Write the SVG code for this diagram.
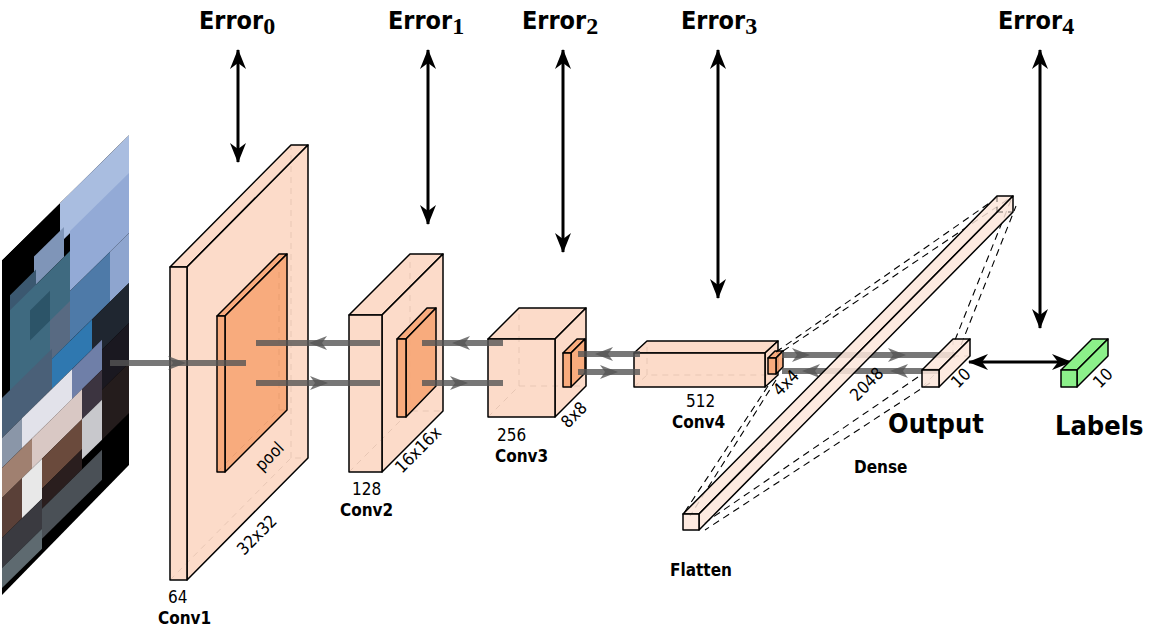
<svg xmlns="http://www.w3.org/2000/svg" width="1167" height="631" viewBox="0 0 1167 631">
<defs>
<style>
.b{stroke:#000;stroke-width:1.5;stroke-linejoin:round}
.c{fill:#fcd5bf;fill-opacity:0.85}
.p{fill:#f7a574;fill-opacity:0.9}
.d{fill:#fde6da;fill-opacity:0.85}
.g{fill:#8cf08a}
.h{fill:none;stroke:#000;stroke-width:1;stroke-dasharray:6 5;opacity:0.55}
.dl{fill:none;stroke:#000;stroke-width:1.1;stroke-dasharray:7 5}
.ga{stroke:#555;stroke-width:6;opacity:0.8;fill:none}
.gh{fill:#555;opacity:0.8}
.ar{stroke:#000;stroke-width:3;fill:none}
.t{font-family:"DejaVu Sans Condensed","DejaVu Sans",sans-serif;fill:#000}
.lb{font-weight:bold;font-size:17px}
.nm{font-size:17px}
.big{font-weight:bold;font-size:27px}
.err{font-family:"DejaVu Sans Condensed","DejaVu Sans",sans-serif;font-weight:bold;font-size:25px}
.sub{font-family:"Liberation Serif",serif;font-size:24px;font-weight:bold}
</style>
<marker id="ah" viewBox="0 0 20 16" refX="19" refY="8" markerWidth="20" markerHeight="16" orient="auto-start-reverse" markerUnits="userSpaceOnUse">
<path d="M0,0 L20,8 L0,16 L6,8 Z" fill="#000"/>
</marker>
<clipPath id="imgclip"><polygon points="2,260 129,135 129,465 2,595"/></clipPath>
</defs>
<rect width="1167" height="631" fill="#fff"/>

<g id="input-image" clip-path="url(#imgclip)">
<g transform="matrix(1,-0.984,0,1,0,0)">
<rect x="0" y="262" width="130" height="340" fill="#000"/>
<rect x="60" y="262" width="70" height="40" fill="#a9bde0"/>
<rect x="34" y="290" width="30" height="30" fill="#7f95b8"/>
<rect x="10" y="305" width="26" height="20" fill="#3b5870"/>
<rect x="10" y="320" width="60" height="90" fill="#3f6a80"/>
<rect x="70" y="300" width="60" height="60" fill="#93aad6"/>
<rect x="70" y="360" width="40" height="50" fill="#4e7aa8"/>
<rect x="110" y="360" width="20" height="50" fill="#8ea5cf"/>
<rect x="30" y="340" width="20" height="30" fill="#2c5468"/>
<rect x="50" y="370" width="20" height="40" fill="#586a82"/>
<rect x="2" y="400" width="50" height="40" fill="#4a6078"/>
<rect x="52" y="410" width="40" height="30" fill="#2f78b0"/>
<rect x="92" y="410" width="38" height="40" fill="#1f2630"/>
<rect x="2" y="440" width="20" height="30" fill="#8a96a8"/>
<rect x="22" y="440" width="50" height="30" fill="#e2e2ea"/>
<rect x="72" y="440" width="30" height="30" fill="#6f7fa8"/>
<rect x="102" y="450" width="28" height="40" fill="#1a1820"/>
<rect x="2" y="470" width="30" height="30" fill="#a08070"/>
<rect x="32" y="470" width="50" height="30" fill="#d9c8c4"/>
<rect x="82" y="470" width="20" height="30" fill="#3c3440"/>
<rect x="2" y="500" width="20" height="40" fill="#5a4038"/>
<rect x="22" y="500" width="20" height="40" fill="#e8e8e8"/>
<rect x="42" y="500" width="40" height="30" fill="#6a4a3c"/>
<rect x="82" y="500" width="20" height="40" fill="#c8c8cc"/>
<rect x="102" y="490" width="28" height="50" fill="#241c1c"/>
<rect x="42" y="530" width="40" height="20" fill="#2a1e1e"/>
<rect x="2" y="540" width="40" height="30" fill="#3a3a40"/>
<rect x="42" y="550" width="60" height="30" fill="#4a5056"/>
<rect x="2" y="570" width="40" height="20" fill="#5e6a70"/>
</g>
</g>

<g id="conv1">
<polyline class="h" points="170,580 291,458 308,458"/><line class="h" x1="291" y1="458" x2="291" y2="145"/>
<polygon class="b c" points="170,267 291,145 308,145 187,267"/>
<polygon class="b c" points="187,267 308,145 308,458 187,580"/>
<rect class="b c" x="170" y="267" width="17" height="313"/>
</g>
<g id="pool1">
<polyline class="h" points="217,472 279,410 287,410"/><line class="h" x1="279" y1="410" x2="279" y2="254"/>
<polygon class="b p" points="217,316 279,254 287,254 225,316"/>
<polygon class="b p" points="225,316 287,254 287,410 225,472"/>
<rect class="b p" x="217" y="316" width="8" height="156"/>
</g>
<g id="conv2">
<polyline class="h" points="349,472 410,411 443,411"/><line class="h" x1="410" y1="411" x2="410" y2="254"/>
<polygon class="b c" points="349,315 410,254 443,254 382,315"/>
<polygon class="b c" points="382,315 443,254 443,411 382,472"/>
<rect class="b c" x="349" y="315" width="33" height="157"/>
</g>
<g id="pool2">
<polygon class="b p" points="397,339 427,308 436,308 406,339"/>
<polygon class="b p" points="406,339 436,308 436,386 406,417"/>
<rect class="b p" x="397" y="339" width="9" height="78"/>
</g>
<g id="conv3">
<polyline class="h" points="488,417 519,386 586,386"/><line class="h" x1="519" y1="386" x2="519" y2="308"/>
<polygon class="b c" points="488,339 519,308 586,308 555,339"/>
<polygon class="b c" points="555,339 586,308 586,386 555,417"/>
<rect class="b c" x="488" y="339" width="67" height="78"/>
</g>
<g id="pool3">
<polygon class="b p" points="563,353 577,339 585,339 571,353"/>
<polygon class="b p" points="571,353 585,339 585,373 571,387"/>
<rect class="b p" x="563" y="353" width="8" height="34"/>
</g>
<g id="conv4">
<polyline class="h" points="634,387 647,375 778,375"/><line class="h" x1="647" y1="375" x2="647" y2="341"/>
<polygon class="b c" points="634,353 647,341 778,341 765,353"/>
<polygon class="b c" points="765,353 778,341 778,375 765,387"/>
<rect class="b c" x="634" y="353" width="131" height="34"/>
</g>
<g id="pool4">
<polygon class="b p" points="768,358 775,351 783,351 776,358"/>
<polygon class="b p" points="776,358 783,351 783,367 776,374"/>
<rect class="b p" x="768" y="358" width="8" height="16"/>
</g>

<g id="connectors">
<line class="dl" x1="776" y1="352" x2="998" y2="197"/>
<line class="dl" x1="783" y1="351" x2="1010" y2="198"/>
<line class="dl" x1="768" y1="386" x2="684" y2="513"/>
<line class="dl" x1="776" y1="380" x2="690" y2="516"/>
<line class="dl" x1="955" y1="340" x2="1011" y2="200"/>
<line class="dl" x1="961" y1="345" x2="1016" y2="206"/>
<line class="dl" x1="918" y1="377" x2="700" y2="526"/>
<line class="dl" x1="930" y1="383" x2="705" y2="530"/>

<line class="ga" x1="110" y1="363" x2="246" y2="363"/>
<path class="gh" d="M168,356 L186,363 L168,370 L173,363 Z"/>
<line class="ga" x1="256" y1="343" x2="380" y2="343"/>
<path class="gh" d="M327,336 L309,343 L327,350 L322,343 Z"/>
<line class="ga" x1="256" y1="383" x2="380" y2="383"/>
<path class="gh" d="M310,376 L328,383 L310,390 L315,383 Z"/>
<line class="ga" x1="422" y1="343" x2="503" y2="343"/>
<path class="gh" d="M470,336 L452,343 L470,350 L465,343 Z"/>
<line class="ga" x1="422" y1="383" x2="503" y2="383"/>
<path class="gh" d="M450,376 L468,383 L450,390 L455,383 Z"/>
<line class="ga" x1="578" y1="354" x2="640" y2="354"/>
<path class="gh" d="M613,347 L595,354 L613,361 L608,354 Z"/>
<line class="ga" x1="578" y1="372" x2="640" y2="372"/>
<path class="gh" d="M600,365 L618,372 L600,379 L605,372 Z"/>
<line class="ga" x1="782" y1="355" x2="955" y2="355"/>
<path class="gh" d="M792,348 L810,355 L792,362 L797,355 Z"/>
<path class="gh" d="M888,348 L906,355 L888,362 L893,355 Z"/>
<line class="ga" x1="782" y1="371" x2="940" y2="371"/>
<path class="gh" d="M820,364 L802,371 L820,378 L815,371 Z"/>
<path class="gh" d="M908,364 L890,371 L908,378 L903,371 Z"/>

<line class="ar" x1="238" y1="50" x2="238" y2="162" marker-start="url(#ah)" marker-end="url(#ah)"/>
<line class="ar" x1="428" y1="50" x2="428" y2="224" marker-start="url(#ah)" marker-end="url(#ah)"/>
<line class="ar" x1="563" y1="50" x2="563" y2="252" marker-start="url(#ah)" marker-end="url(#ah)"/>
<line class="ar" x1="718" y1="50" x2="718" y2="298" marker-start="url(#ah)" marker-end="url(#ah)"/>
<line class="ar" x1="1040" y1="50" x2="1040" y2="328" marker-start="url(#ah)" marker-end="url(#ah)"/>
<line class="ar" x1="969" y1="362" x2="1071" y2="362" marker-start="url(#ah)" marker-end="url(#ah)"/>
</g>

<g id="flatten-dense">
<polygon class="b d" points="683,514 997,196 1013,196 699,514"/>
<polygon class="b d" points="699,514 1013,196 1013,212 699,530"/>
<rect class="b d" x="683" y="514" width="16" height="16"/>
<line class="h" x1="997" y1="196" x2="997" y2="212"/><line class="h" x1="997" y1="212" x2="1013" y2="212"/>
</g>
<g id="output">
<polyline class="h" points="922,387 953,356 970,356"/><line class="h" x1="953" y1="356" x2="953" y2="339"/>
<polygon class="b d" points="922,370 953,339 970,339 939,370"/>
<polygon class="b d" points="939,370 970,339 970,356 939,387"/>
<rect class="b d" x="922" y="370" width="17" height="17"/>
</g>
<g id="labels-node">
<polygon class="b g" points="1061,370 1092,339 1108,339 1077,370"/>
<polygon class="b g" points="1077,370 1108,339 1108,356 1077,387"/>
<rect class="b g" x="1061" y="370" width="16" height="17"/>
</g>

<g id="texts">
<text class="err" x="199" y="29">Error<tspan class="sub" dy="5">0</tspan></text>
<text class="err" x="388" y="29">Error<tspan class="sub" dy="5">1</tspan></text>
<text class="err" x="522" y="29">Error<tspan class="sub" dy="5">2</tspan></text>
<text class="err" x="681" y="29">Error<tspan class="sub" dy="5">3</tspan></text>
<text class="err" x="998" y="29">Error<tspan class="sub" dy="5">4</tspan></text>

<text class="t nm" x="168" y="603">64</text>
<text class="t lb" x="158" y="624">Conv1</text>
<text class="t nm" transform="translate(244,556) rotate(-45)">32x32</text>
<text class="t nm" transform="translate(262,472) rotate(-45)">pool</text>
<text class="t nm" x="352" y="495">128</text>
<text class="t lb" x="340" y="516">Conv2</text>
<text class="t nm" transform="translate(402,474) rotate(-45)">16x16x</text>
<text class="t nm" x="497" y="441">256</text>
<text class="t lb" x="495" y="462">Conv3</text>
<text class="t nm" transform="translate(568,429) rotate(-45)">8x8</text>
<text class="t nm" x="686" y="407">512</text>
<text class="t lb" x="672" y="428">Conv4</text>
<text class="t nm" transform="translate(780,397) rotate(-45)">4x4</text>
<text class="t nm" transform="translate(857,402) rotate(-45)">2048</text>
<text class="t nm" transform="translate(958,389) rotate(-45)">10</text>
<text class="t nm" transform="translate(1100,389) rotate(-45)">10</text>
<text class="t big" x="888" y="433">Output</text>
<text class="t big" x="1055" y="435">Labels</text>
<text class="t lb" x="854" y="473">Dense</text>
<text class="t lb" x="670" y="576">Flatten</text>
</g>
</svg>
